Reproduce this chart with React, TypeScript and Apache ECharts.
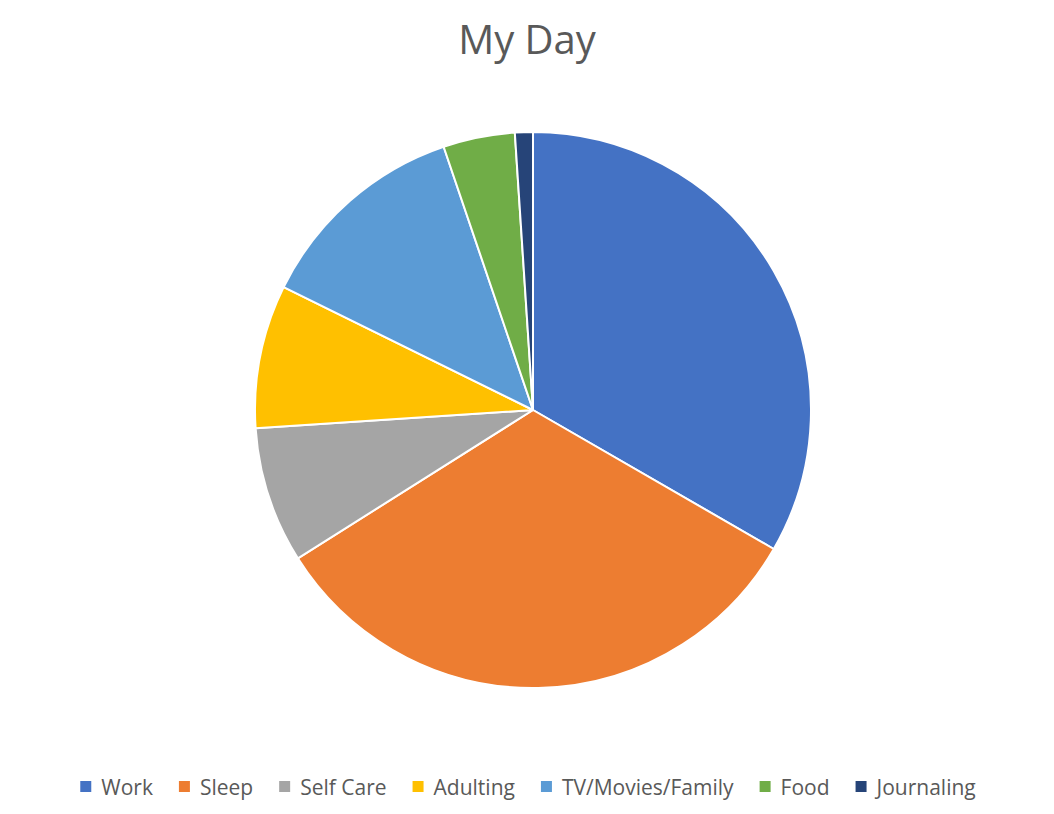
import React, { useEffect, useRef } from "react";
import * as echarts from "echarts";

const categories = ["Work", "Sleep", "Self Care", "Adulting", "TV/Movies/Family", "Food", "Journaling"];
const hours = [8, 7.85, 1.9, 2, 3, 1, 0.25];
const colors = ["#4472C4", "#ED7D31", "#A5A5A5", "#FFC000", "#5B9BD5", "#70AD47", "#264478"];

export default function App() {
  const ref = useRef<HTMLDivElement>(null);
  useEffect(() => {
    const chart = echarts.init(ref.current!, null, { renderer: "svg" });
    chart.setOption({
      animation: false,
      backgroundColor: "#ffffff",
      color: colors,
      title: {
        text: "My Day",
        left: "center",
        top: 13,
        textStyle: { fontFamily: "Open Sans", fontSize: 40, fontWeight: "normal", color: "#595959" },
      },
      legend: {
        top: 771,
        left: "center",
        itemWidth: 13,
        itemHeight: 13,
        itemGap: 24,
        icon: "rect",
        textStyle: { fontFamily: "Open Sans", fontSize: 21, color: "#595959", padding: [0, 0, 0, 4] },
        data: categories,
      },
      series: [
        {
          type: "pie",
          center: [533, 410],
          radius: 278,
          startAngle: 90,
          clockwise: true,
          label: { show: false },
          labelLine: { show: false },
          itemStyle: { borderColor: "#ffffff", borderWidth: 2 },
          data: categories.map((c, i) => ({ name: c, value: hours[i] })),
        },
      ],
    });
    return () => chart.dispose();
  }, []);
  return <div ref={ref} style={{ position: "fixed", left: 0, top: 0, width: 1054, height: 814 }} />;
}
